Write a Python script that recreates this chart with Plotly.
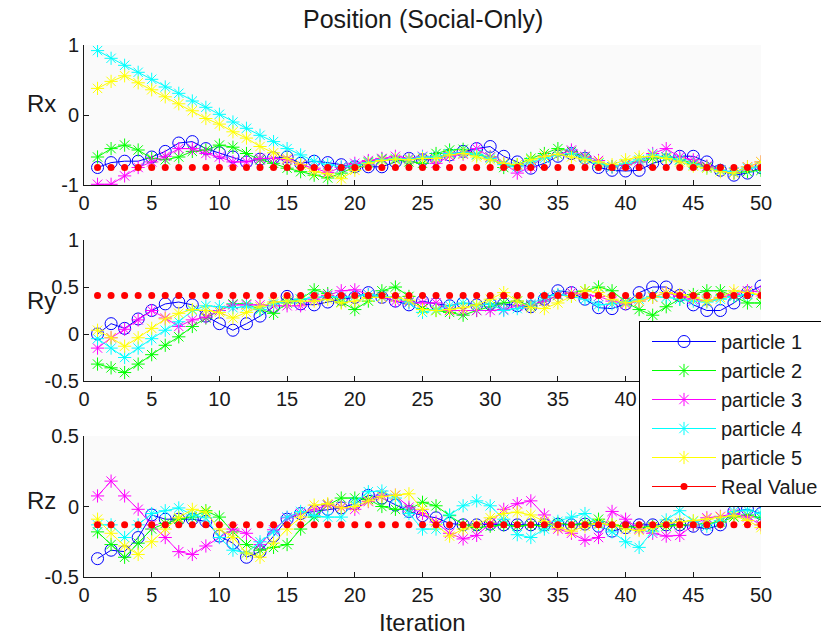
import plotly.graph_objects as go

# Iteration index
iterations = list(range(1, 51))

# Rx trajectories of the five particles
rx_p1 = [-0.75, -0.68, -0.66, -0.66, -0.60, -0.52, -0.40, -0.38, -0.48, -0.54,
         -0.60, -0.67, -0.63, -0.61, -0.60, -0.69, -0.66, -0.68, -0.71, -0.74,
         -0.74, -0.74, -0.67, -0.62, -0.64, -0.62, -0.57, -0.52, -0.48, -0.45,
         -0.59, -0.67, -0.76, -0.69, -0.59, -0.55, -0.62, -0.75, -0.79, -0.80,
         -0.79, -0.69, -0.64, -0.59, -0.59, -0.67, -0.79, -0.86, -0.83, -0.75]
rx_p2 = [-0.60, -0.48, -0.43, -0.50, -0.62, -0.64, -0.60, -0.52, -0.50, -0.43,
         -0.46, -0.55, -0.64, -0.69, -0.76, -0.81, -0.86, -0.90, -0.83, -0.74,
         -0.67, -0.63, -0.64, -0.67, -0.69, -0.55, -0.50, -0.49, -0.57, -0.60,
         -0.75, -0.71, -0.62, -0.55, -0.48, -0.52, -0.60, -0.69, -0.74, -0.71,
         -0.67, -0.62, -0.60, -0.64, -0.69, -0.74, -0.79, -0.83, -0.81, -0.79]
rx_p3 = [-0.99, -0.99, -0.87, -0.75, -0.67, -0.59, -0.48, -0.48, -0.55, -0.60,
         -0.67, -0.67, -0.62, -0.62, -0.64, -0.71, -0.76, -0.82, -0.75, -0.69,
         -0.65, -0.62, -0.59, -0.62, -0.59, -0.69, -0.59, -0.56, -0.48, -0.60,
         -0.69, -0.83, -0.74, -0.59, -0.57, -0.50, -0.59, -0.65, -0.74, -0.71,
         -0.67, -0.55, -0.48, -0.60, -0.64, -0.73, -0.79, -0.82, -0.74, -0.67]
rx_p4 = [0.92, 0.81, 0.71, 0.61, 0.51, 0.40, 0.31, 0.20, 0.11, 0.01,
         -0.10, -0.19, -0.29, -0.38, -0.48, -0.57, -0.66, -0.71, -0.74, -0.72,
         -0.68, -0.64, -0.62, -0.63, -0.60, -0.60, -0.55, -0.54, -0.56, -0.62,
         -0.71, -0.74, -0.67, -0.62, -0.57, -0.55, -0.62, -0.69, -0.74, -0.69,
         -0.64, -0.57, -0.60, -0.64, -0.71, -0.76, -0.79, -0.81, -0.76, -0.74]
rx_p5 = [0.38, 0.48, 0.56, 0.46, 0.36, 0.26, 0.16, 0.06, -0.05, -0.13,
         -0.24, -0.33, -0.45, -0.54, -0.62, -0.71, -0.81, -0.84, -0.91, -0.79,
         -0.69, -0.65, -0.63, -0.64, -0.62, -0.62, -0.57, -0.55, -0.60, -0.64,
         -0.69, -0.71, -0.64, -0.59, -0.56, -0.60, -0.64, -0.67, -0.71, -0.64,
         -0.60, -0.59, -0.62, -0.67, -0.73, -0.76, -0.81, -0.83, -0.74, -0.67]

# Ry trajectories
ry_p1 = [0.00, 0.11, 0.06, 0.16, 0.25, 0.32, 0.34, 0.31, 0.19, 0.11,
         0.04, 0.11, 0.19, 0.29, 0.40, 0.32, 0.31, 0.34, 0.37, 0.39,
         0.44, 0.39, 0.35, 0.31, 0.35, 0.32, 0.30, 0.33, 0.31, 0.32,
         0.32, 0.30, 0.29, 0.37, 0.46, 0.44, 0.37, 0.28, 0.27, 0.32,
         0.44, 0.50, 0.50, 0.41, 0.31, 0.25, 0.25, 0.33, 0.44, 0.51]
ry_p2 = [-0.32, -0.36, -0.41, -0.32, -0.22, -0.12, -0.03, 0.08, 0.17, 0.25,
         0.32, 0.32, 0.26, 0.22, 0.33, 0.37, 0.47, 0.43, 0.34, 0.26,
         0.35, 0.46, 0.50, 0.40, 0.27, 0.25, 0.23, 0.20, 0.25, 0.29,
         0.33, 0.35, 0.30, 0.35, 0.41, 0.44, 0.46, 0.50, 0.46, 0.34,
         0.26, 0.20, 0.29, 0.37, 0.42, 0.46, 0.46, 0.40, 0.33, 0.33]
ry_p3 = [-0.15, -0.04, 0.05, 0.15, 0.25, 0.17, 0.08, 0.15, 0.18, 0.25,
         0.31, 0.31, 0.31, 0.30, 0.30, 0.30, 0.37, 0.41, 0.46, 0.47,
         0.42, 0.39, 0.35, 0.34, 0.33, 0.33, 0.25, 0.25, 0.25, 0.25,
         0.26, 0.30, 0.31, 0.35, 0.41, 0.44, 0.42, 0.40, 0.35, 0.32,
         0.35, 0.39, 0.44, 0.40, 0.37, 0.35, 0.39, 0.42, 0.46, 0.45]
ry_p4 = [-0.05, -0.15, -0.25, -0.15, -0.05, 0.04, 0.13, 0.25, 0.30, 0.29,
         0.28, 0.29, 0.26, 0.32, 0.35, 0.37, 0.39, 0.40, 0.39, 0.40,
         0.42, 0.40, 0.39, 0.33, 0.23, 0.26, 0.30, 0.33, 0.30, 0.32,
         0.25, 0.27, 0.32, 0.39, 0.42, 0.40, 0.37, 0.31, 0.32, 0.34,
         0.37, 0.40, 0.39, 0.37, 0.35, 0.34, 0.37, 0.40, 0.42, 0.42]
ry_p5 = [0.04, -0.04, -0.13, -0.04, 0.06, 0.16, 0.22, 0.26, 0.25, 0.23,
         0.17, 0.23, 0.29, 0.34, 0.35, 0.35, 0.35, 0.37, 0.33, 0.35,
         0.39, 0.39, 0.39, 0.36, 0.26, 0.25, 0.26, 0.28, 0.31, 0.37,
         0.44, 0.35, 0.28, 0.27, 0.33, 0.40, 0.46, 0.44, 0.37, 0.33,
         0.35, 0.39, 0.44, 0.42, 0.39, 0.35, 0.39, 0.46, 0.44, 0.42]

# Rz trajectories
rz_p1 = [-0.37, -0.31, -0.32, -0.22, -0.06, -0.09, -0.09, -0.09, -0.105, -0.21,
         -0.26, -0.36, -0.32, -0.21, -0.09, -0.05, -0.035, -0.02, -0.01, 0.02,
         0.08, 0.06, 0.01, -0.035, -0.065, -0.08, -0.12, -0.13, -0.13, -0.125,
         -0.13, -0.13, -0.13, -0.13, -0.125, -0.13, -0.125, -0.14, -0.175, -0.15,
         -0.13, -0.13, -0.13, -0.13, -0.14, -0.16, -0.13, -0.035, -0.02, -0.05]
rz_p2 = [-0.18, -0.27, -0.36, -0.26, -0.16, -0.12, -0.09, -0.075, -0.03, -0.075,
         -0.18, -0.27, -0.31, -0.29, -0.27, -0.16, -0.075, 0.01, 0.06, 0.06,
         0.05, 0.00, -0.02, -0.02, 0.03, 0.005, -0.065, -0.13, -0.15, -0.14,
         -0.13, -0.14, -0.13, -0.14, -0.12, -0.13, -0.12, -0.09, -0.13, -0.14,
         -0.15, -0.14, -0.14, -0.13, -0.13, -0.12, -0.11, -0.075, -0.06, -0.08]
rz_p3 = [0.075, 0.18, 0.075, -0.02, -0.13, -0.22, -0.32, -0.34, -0.28, -0.22,
         -0.16, -0.19, -0.27, -0.165, -0.08, -0.05, -0.02, 0.01, -0.005, -0.02,
         0.035, 0.08, 0.08, -0.005, -0.05, -0.11, -0.19, -0.23, -0.205, -0.12,
         -0.02, 0.02, 0.04, -0.06, -0.16, -0.19, -0.24, -0.22, -0.035, -0.09,
         -0.16, -0.19, -0.21, -0.205, -0.13, -0.08, -0.07, -0.05, -0.075, -0.13]
rz_p4 = [-0.13, -0.13, -0.22, -0.13, -0.05, -0.03, -0.01, -0.06, -0.08, -0.22,
         -0.31, -0.33, -0.25, -0.18, -0.075, -0.035, -0.065, -0.075, -0.075, 0.03,
         0.105, 0.11, 0.06, -0.05, -0.16, -0.16, -0.06, 0.005, 0.04, 0.005,
         -0.09, -0.20, -0.22, -0.16, -0.105, -0.075, -0.05, -0.13, -0.18, -0.25,
         -0.29, -0.175, -0.095, -0.03, -0.105, -0.14, -0.10, -0.035, -0.025, -0.05]
rz_p5 = [-0.09, -0.19, -0.28, -0.34, -0.25, -0.16, -0.08, -0.02, -0.04, -0.16,
         -0.22, -0.33, -0.36, -0.26, -0.16, -0.075, 0.01, 0.02, -0.01, 0.00,
         0.04, 0.07, 0.08, 0.09, -0.02, -0.13, -0.21, -0.16, -0.13, -0.08,
         -0.05, -0.04, -0.06, -0.105, -0.15, -0.175, -0.14, -0.12, -0.13, -0.16,
         -0.17, -0.15, -0.12, -0.11, -0.10, -0.09, -0.075, -0.065, -0.10, -0.15]

# Ground-truth position
real_rx = -0.75
real_ry = 0.41
real_rz = -0.13

particle_names = ["particle 1", "particle 2", "particle 3", "particle 4", "particle 5"]
real_name = "Real Value"

# Tick labels (hyphen-minus, as in MATLAB output)
x_ticks = list(range(0, 51, 5))
rx_ticks = [1, 0, -1]
rx_tick_text = ["1", "0", "-1"]
ry_ticks = [1, 0.5, 0, -0.5]
ry_tick_text = ["1", "0.5", "0", "-0.5"]
rz_ticks = [0.5, 0, -0.5]
rz_tick_text = ["0.5", "0", "-0.5"]

colors = ["#0000ff", "#00ff00", "#ff00ff", "#00ffff", "#ffff00"]
symbols = ["circle-open", "asterisk-open", "asterisk-open", "asterisk-open", "asterisk-open"]
FONT = "Liberation Sans, Arial, sans-serif"
INK = "#1a1a1a"

panels = [
    ([rx_p1, rx_p2, rx_p3, rx_p4, rx_p5], real_rx, "Rx", [-1, 1], rx_ticks, rx_tick_text),
    ([ry_p1, ry_p2, ry_p3, ry_p4, ry_p5], real_ry, "Ry", [-0.5, 1], ry_ticks, ry_tick_text),
    ([rz_p1, rz_p2, rz_p3, rz_p4, rz_p5], real_rz, "Rz", [-0.5, 0.5], rz_ticks, rz_tick_text),
]

W, H = 821, 638
PW = W - 84 - 60
# vertical pixel extents (top, bottom) of each axes box, and label centre
boxes = [(45, 185), (240, 381), (436, 577)]
label_y = [103, 300, 500]

fig = go.Figure()
layout = dict(
    width=W, height=H,
    margin=dict(l=84, r=60, t=0, b=0, autoexpand=False),
    paper_bgcolor="white",
    plot_bgcolor="rgb(250,250,250)",
    font=dict(family=FONT, color=INK, size=20),
    showlegend=True,
    annotations=[],
)

for k, (series, real, label, yr, tv, tt) in enumerate(panels, start=1):
    xa = "x" if k == 1 else f"x{k}"
    ya = "y" if k == 1 else f"y{k}"
    for name, vals, col, sym in zip(particle_names, series, colors, symbols):
        fig.add_trace(go.Scatter(
            x=iterations, y=vals, mode="lines+markers", name=name,
            legendgroup=name, showlegend=(k == 1),
            xaxis=xa, yaxis=ya,
            line=dict(color=col, width=1),
            marker=dict(symbol=sym, size=12 if sym == "circle-open" else 11,
                        color=col, line=dict(color=col, width=1)),
        ))
    fig.add_trace(go.Scatter(
        x=iterations, y=[real] * len(iterations), mode="markers", name=real_name,
        legendgroup=real_name, showlegend=False,
        xaxis=xa, yaxis=ya,
        marker=dict(symbol="circle", size=7, color="#ff0000"),
    ))

    top, bot = boxes[k - 1]
    dom = [1 - bot / H, 1 - top / H]
    axis_common = dict(
        showline=True, linecolor=INK, linewidth=1, mirror=False,
        ticks="inside", ticklen=5, tickcolor=INK, tickwidth=1,
        showgrid=False, zeroline=False,
        tickfont=dict(size=20, family=FONT, color=INK),
    )
    layout["xaxis" if k == 1 else f"xaxis{k}"] = dict(
        domain=[0, 1], anchor=ya, range=[0, 50], tickvals=x_ticks,
        ticktext=[str(t) for t in x_ticks], **axis_common)
    layout["yaxis" if k == 1 else f"yaxis{k}"] = dict(
        domain=dom, anchor=xa, range=yr, tickvals=tv, ticktext=tt, **axis_common)

    # horizontal axis label beside each panel
    layout["annotations"].append(dict(
        text=label, xref="paper", yref="paper",
        x=-43 / PW, y=1 - label_y[k - 1] / H,
        xanchor="center", yanchor="middle", showarrow=False,
        font=dict(size=24, family=FONT, color=INK)))

# legend-only entry for the reference value (drawn as line + dot)
fig.add_trace(go.Scatter(
    x=[None], y=[None], mode="lines+markers", name=real_name,
    legendgroup=real_name, showlegend=True,
    line=dict(color="#ff0000", width=1),
    marker=dict(symbol="circle", size=7, color="#ff0000"),
))

layout["annotations"].append(dict(
    text="Position (Social-Only)", xref="paper", yref="paper",
    x=0.5, y=1 - 19 / H, xanchor="center", yanchor="middle", showarrow=False,
    font=dict(size=25, family=FONT, color=INK)))
layout["annotations"].append(dict(
    text="Iteration", xref="paper", yref="paper",
    x=0.5, y=0, xanchor="center", yanchor="bottom", showarrow=False,
    font=dict(size=24, family=FONT, color=INK)))

layout["legend"] = dict(
    x=(639 - 84) / PW, y=1 - 321 / H, xanchor="left", yanchor="top",
    bgcolor="white", bordercolor="black", borderwidth=1,
    font=dict(size=20, family=FONT, color=INK),
    itemwidth=64, tracegroupgap=0, indentation=7,
)

fig.update_layout(**layout)
fig.write_html("out.html")
